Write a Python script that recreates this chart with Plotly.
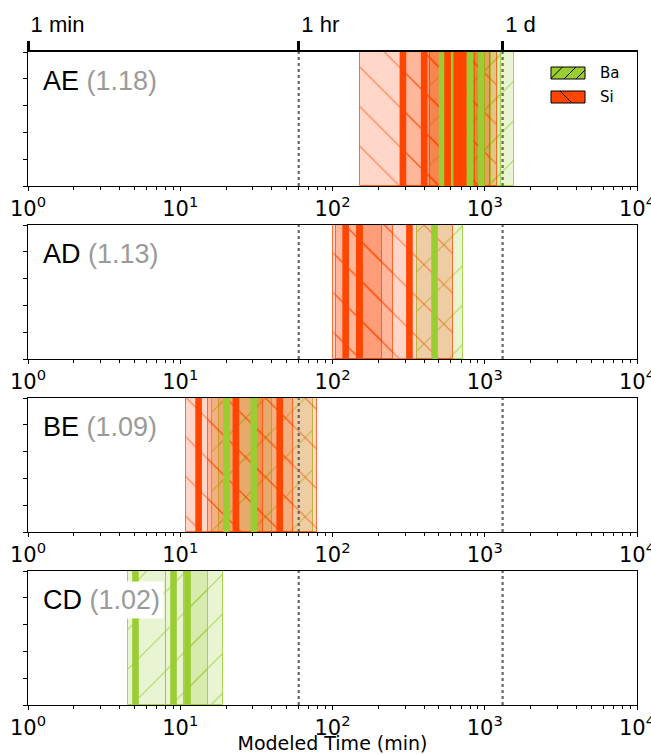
import plotly.graph_objects as go

# ---------------- data (minutes) ----------------
panel_names = ["AE", "AD", "BE", "CD"]
panel_ratios = ["1.18", "1.13", "1.09", "1.02"]

ae_si_center = [290, 400, 570, 655, 720]
ae_si_low = [152, 290, 400, 440, 510]
ae_si_high = [1200, 720, 1080, 1000, 860]
ae_ba_center = [525, 620, 800, 950]
ae_ba_low = [440, 510, 640, 700]
ae_ba_high = [1560, 1280, 1100, 1000]

ad_si_center = [122, 150, 320]
ad_si_low = [101, 105, 158]
ad_si_high = [619, 249, 210]
ad_ba_center = [468]
ad_ba_low = [361]
ad_ba_high = [717]

be_si_center = [13.2, 23.2, 45.0]
be_si_low = [10.9, 15.2, 30.0]
be_si_high = [79.1, 34.9, 55.0]
be_ba_center = [20.1, 30.4]
be_ba_low = [16.2, 18.0]
be_ba_high = [74.4, 40.0]

cd_si_center = []
cd_si_low = []
cd_si_high = []
cd_ba_center = [5.08, 9.03, 11.16]
cd_ba_low = [4.56, 8.06, 10.58]
cd_ba_high = [8.06, 19.17, 15.15]

ref_times = [60, 1310]                 # dotted reference lines (1 hr, 1 d)
top_tick_vals = [1, 60, 1310]
top_tick_text = ["1 min", "1 hr", "1 d"]
x_tick_vals = [1, 10, 100, 1000, 10000]
x_tick_text = ["10<sup>0</sup>", "10<sup>1</sup>", "10<sup>2</sup>", "10<sup>3</sup>", "10<sup>4</sup>"]
legend_labels = ["Ba", "Si"]

# ---------------- styling ----------------
SI = "#FF4500"
BA = "#9ACD32"
SI_FILL = "rgba(255,69,0,0.22)"
BA_FILL = "rgba(154,205,50,0.22)"
SI_EDGE = "rgba(255,69,0,0.75)"
BA_EDGE = "rgba(154,205,50,0.85)"
HELV = "Liberation Sans, Arial, Helvetica, sans-serif"
DJV = "DejaVu Sans, sans-serif"

W, H = 651, 754
ML, MR, MT, MB = 28, 14, 52, 49
PW = W - ML - MR
PH = H - MT - MB
panel_px = [(52, 186), (225, 359), (398, 532), (571, 705)]
domains = [[(705 - b) / PH, min(1.0, (705 - t) / PH)] for t, b in panel_px]

panels = [
    (ae_si_center, ae_si_low, ae_si_high, ae_ba_center, ae_ba_low, ae_ba_high),
    (ad_si_center, ad_si_low, ad_si_high, ad_ba_center, ad_ba_low, ad_ba_high),
    (be_si_center, be_si_low, be_si_high, be_ba_center, be_ba_low, be_ba_high),
    (cd_si_center, cd_si_low, cd_si_high, cd_ba_center, cd_ba_low, cd_ba_high),
]

minor_vals = [m * 10 ** d for d in range(4) for m in range(2, 10)]

fig = go.Figure()
layout = {}
annotations = []

for i, (si_c, si_lo, si_hi, ba_c, ba_lo, ba_hi) in enumerate(panels):
    sfx = "" if i == 0 else str(i + 1)
    xa, ya = "x" + sfx, "y" + sfx

    for lo, hi in zip(ba_lo, ba_hi):
        fig.add_trace(go.Bar(
            orientation="h", y=[0.5], x=[hi - lo], base=[lo], width=1,
            marker=dict(color=BA_FILL, line=dict(color=BA_EDGE, width=1),
                        pattern=dict(shape="/", fgcolor=BA, fgopacity=0.75,
                                     size=28, solidity=0.04, fillmode="overlay")),
            xaxis=xa, yaxis=ya, showlegend=False, hoverinfo="skip"))
    for lo, hi in zip(si_lo, si_hi):
        fig.add_trace(go.Bar(
            orientation="h", y=[0.5], x=[hi - lo], base=[lo], width=1,
            marker=dict(color=SI_FILL, line=dict(color=SI_EDGE, width=1),
                        pattern=dict(shape="\\", fgcolor=SI, fgopacity=0.65,
                                     size=28, solidity=0.04, fillmode="overlay")),
            xaxis=xa, yaxis=ya, showlegend=False, hoverinfo="skip"))
    for t in ref_times:
        fig.add_trace(go.Scatter(x=[t, t], y=[0, 1], mode="lines",
                                 line=dict(color="#666666", width=2.2, dash="dot"),
                                 xaxis=xa, yaxis=ya, showlegend=False, hoverinfo="skip"))
    for c in ba_c:
        fig.add_trace(go.Scatter(x=[c, c], y=[0, 1], mode="lines",
                                 line=dict(color=BA, width=6.6),
                                 xaxis=xa, yaxis=ya, showlegend=False, hoverinfo="skip"))
    for c in si_c:
        fig.add_trace(go.Scatter(x=[c, c], y=[0, 1], mode="lines",
                                 line=dict(color=SI, width=6.6),
                                 xaxis=xa, yaxis=ya, showlegend=False, hoverinfo="skip"))

    xkey = "xaxis" + sfx
    ykey = "yaxis" + sfx
    layout[xkey] = dict(
        type="log", range=[0, 4], domain=[0, 1], anchor=ya,
        tickmode="array", tickvals=x_tick_vals, ticktext=x_tick_text,
        ticks="outside", ticklen=4, tickwidth=1, tickcolor="black",
        minor=dict(ticks="outside", ticklen=2.5, tickwidth=0.8, tickcolor="black",
                   tickmode="array", tickvals=minor_vals, showgrid=False),
        showline=True, linecolor="black", linewidth=1, mirror=True,
        showgrid=False, zeroline=False, automargin=False,
        ticklabeloverflow="allow",
        tickfont=dict(family=DJV, size=21, color="black"),
    )
    layout[ykey] = dict(
        range=[0, 1], domain=domains[i], anchor=xa,
        tickmode="array", tickvals=[0, 0.2, 0.4, 0.6, 0.8, 1.0],
        ticks="outside", ticklen=4, tickwidth=1, tickcolor="black",
        showticklabels=False, showline=True, linecolor="black", linewidth=1,
        mirror=True, showgrid=False, zeroline=False, automargin=False,
        fixedrange=True,
    )
    annotations.append(dict(
        xref=xa + " domain", yref=ya + " domain", x=0.018, y=1 - 28.5 / 134,
        xanchor="left", yanchor="middle", showarrow=False,
        text=panel_names[i] + " <span style='color:#9a9a9a'>(" + panel_ratios[i] + ")</span>",
        font=dict(family=HELV, size=27, color="black"),
        bgcolor="white", borderpad=3,
    ))

layout["xaxis4"]["title"] = dict(text="Modeled Time (min)",
                                 font=dict(family=DJV, size=19, color="black"),
                                 standoff=7)

# top axis with time labels
fig.add_trace(go.Scatter(x=top_tick_vals, y=[0.5] * len(top_tick_vals), mode="none",
                         xaxis="x5", yaxis="y", showlegend=False, hoverinfo="skip"))
layout["xaxis5"] = dict(
    type="log", range=[0, 4], overlaying="x", anchor="y", side="top",
    tickmode="array", tickvals=top_tick_vals, ticktext=top_tick_text,
    ticks="outside", ticklen=9, tickwidth=3, tickcolor="black",
    ticklabelposition="outside right", ticklabelstandoff=9,
    ticklabeloverflow="allow",
    showline=True, linecolor="black", linewidth=2.2,
    showgrid=False, zeroline=False, automargin=False,
    tickfont=dict(family=HELV, size=22, color="black"),
)

# legend (patches drawn as shapes)
def px(xp):
    return (xp - ML) / PW

def py(yp):
    return (705 - yp) / PH

shapes = []
shapes.append(dict(type="rect", xref="paper", yref="paper",
                   x0=px(551), x1=px(585), y0=py(79), y1=py(67),
                   fillcolor=BA, line=dict(color="black", width=1)))
for x0, y0, x1, y1 in [(551, 78.5, 562.5, 67), (564, 79, 576, 67), (576, 79, 585, 70)]:
    shapes.append(dict(type="line", xref="paper", yref="paper",
                       x0=px(x0), y0=py(y0), x1=px(x1), y1=py(y1),
                       line=dict(color="black", width=1)))
shapes.append(dict(type="rect", xref="paper", yref="paper",
                   x0=px(551), x1=px(585), y0=py(103), y1=py(91),
                   fillcolor=SI, line=dict(color="black", width=1)))
shapes.append(dict(type="line", xref="paper", yref="paper",
                   x0=px(560), y0=py(91), x1=px(572), y1=py(103),
                   line=dict(color="black", width=1)))
for lab, yc in zip(legend_labels, [73, 97]):
    annotations.append(dict(xref="paper", yref="paper", x=px(598), y=py(yc),
                            xanchor="left", yanchor="middle", showarrow=False,
                            text=lab, font=dict(family=DJV, size=15, color="black")))

fig.update_layout(
    width=W, height=H,
    margin=dict(l=ML, r=MR, t=MT, b=MB),
    template="none",
    paper_bgcolor="white", plot_bgcolor="white",
    barmode="overlay", bargap=0,
    showlegend=False,
    annotations=annotations,
    shapes=shapes,
    **layout,
)

fig.write_html("out.html",
               config={"displayModeBar": False},
               post_script="document.body.style.margin='0px';document.body.style.padding='0px';")
